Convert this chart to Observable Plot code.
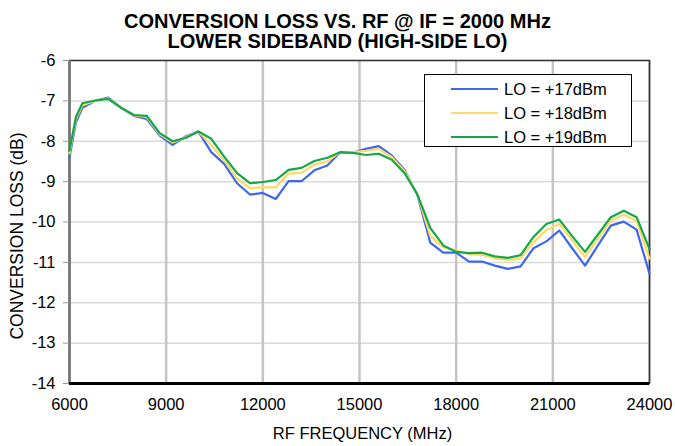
<!DOCTYPE html>
<html>
<head>
<meta charset="utf-8">
<script src="https://cdn.jsdelivr.net/npm/d3@7"></script>
<script src="https://cdn.jsdelivr.net/npm/@observablehq/plot@0.6"></script>
<style>
  html, body { margin: 0; padding: 0; background: #fff; }
  #wrap { position: relative; width: 675px; height: 446px; font-family: "Liberation Sans", Arial, sans-serif; color: #000; }
  .title { position: absolute; left: 0; width: 675px; text-align: center; font-weight: bold; font-size: 20px; line-height: 20px; }
  .axt { position: absolute; font-size: 16.5px; white-space: nowrap; }
  #legend { position: absolute; left: 424px; top: 74px; width: 208px; height: 73px; border: 1px solid #000; background: #fff; box-sizing: border-box; }
  .lrow { position: absolute; left: 0; height: 20px; display: flex; align-items: center; font-size: 16.5px; white-space: nowrap; }
  .lsw { width: 47px; height: 2px; margin-left: 26px; margin-right: 6px; }
</style>
</head>
<body>
<div id="wrap"></div>
<script>
const freq = [6000, 6200, 6400, 6800, 7200, 7600, 8000, 8400, 8800, 9200, 9600, 10000, 10400, 10800, 11200, 11600, 12000, 12400, 12800, 13200, 13600, 14000, 14400, 14800, 15200, 15600, 16000, 16400, 16800, 17200, 17600, 18000, 18400, 18800, 19200, 19600, 20000, 20400, 20800, 21200, 21600, 22000, 22400, 22800, 23200, 23600, 24000];
const lo17 = [-8.40, -7.53, -7.17, -7.00, -6.92, -7.17, -7.37, -7.45, -7.86, -8.09, -7.88, -7.76, -8.27, -8.56, -9.04, -9.32, -9.28, -9.43, -8.99, -8.99, -8.72, -8.60, -8.27, -8.28, -8.19, -8.12, -8.35, -8.71, -9.34, -10.52, -10.76, -10.76, -10.98, -10.98, -11.08, -11.16, -11.10, -10.65, -10.48, -10.21, -10.65, -11.08, -10.58, -10.09, -9.99, -10.19, -11.28];
const lo18 = [-8.30, -7.45, -7.11, -7.00, -6.94, -7.17, -7.36, -7.40, -7.83, -8.03, -7.90, -7.76, -8.10, -8.47, -8.92, -9.16, -9.14, -9.14, -8.80, -8.78, -8.58, -8.50, -8.27, -8.27, -8.24, -8.19, -8.39, -8.74, -9.32, -10.35, -10.63, -10.70, -10.80, -10.81, -10.90, -10.94, -10.90, -10.50, -10.20, -10.05, -10.45, -10.87, -10.42, -9.96, -9.82, -9.97, -10.91];
const lo19 = [-8.23, -7.40, -7.06, -6.99, -6.95, -7.17, -7.35, -7.37, -7.80, -8.00, -7.92, -7.76, -7.94, -8.38, -8.79, -9.04, -9.01, -8.96, -8.71, -8.66, -8.49, -8.41, -8.27, -8.29, -8.34, -8.31, -8.46, -8.79, -9.32, -10.15, -10.58, -10.74, -10.77, -10.76, -10.85, -10.89, -10.82, -10.37, -10.05, -9.94, -10.35, -10.74, -10.31, -9.88, -9.72, -9.88, -10.67];
const seriesNames = ["LO = +17dBm", "LO = +18dBm", "LO = +19dBm"];
const seriesColors = ["#3f66ef", "#ffd966", "#12a84a"];
const xTicks = [6000, 9000, 12000, 15000, 18000, 21000, 24000];
const yTicks = [-14, -13, -12, -11, -10, -9, -8, -7, -6];
const titleLines = ["CONVERSION LOSS VS. RF @ IF = 2000 MHz", "LOWER SIDEBAND (HIGH-SIDE LO)"];
const xLabel = "RF FREQUENCY (MHz)";
const yLabel = "CONVERSION LOSS (dB)";

const allSeries = [lo17, lo18, lo19];
const rows = [];
allSeries.forEach((vals, i) => vals.forEach((v, j) => rows.push({f: freq[j], v, s: seriesNames[i]})));

const chart = Plot.plot({
  width: 675, height: 446,
  marginLeft: 69, marginRight: 26, marginTop: 60, marginBottom: 63,
  x: {domain: [6000, 24000]},
  y: {domain: [-14, -6]},
  color: {domain: seriesNames, range: seriesColors},
  style: {fontFamily: "Liberation Sans, Arial, sans-serif", fontSize: "16.5px", color: "#000", background: "#fff"},
  marks: [
    Plot.gridY(yTicks, {stroke: "#d9d9d9", strokeOpacity: 1, strokeWidth: 1.5}),
    Plot.gridX(xTicks, {stroke: "#c4c4c4", strokeOpacity: 1, strokeWidth: 2.5}),
    Plot.frame({stroke: "#333", strokeWidth: 1.5}),
    Plot.ruleX([6000], {stroke: "#777", strokeWidth: 2.5}),
    Plot.ruleY([-14], {stroke: "#000", strokeWidth: 3}),
    Plot.axisY(yTicks, {tickSize: 6, tickPadding: 8, stroke: "#999", tickFormat: d => String(d), label: null}),
    Plot.axisX(xTicks, {tickSize: 0, tickPadding: 15, tickFormat: d => String(d), label: null}),
    Plot.line(rows, {x: "f", y: "v", z: "s", stroke: "s", strokeWidth: 2.2, strokeLinejoin: "round"})
  ]
});

const wrap = document.getElementById("wrap");
wrap.appendChild(chart);

titleLines.forEach((t, i) => {
  const d = document.createElement("div");
  d.className = "title";
  d.style.top = (10.5 + i * 20) + "px";
  d.textContent = t;
  wrap.appendChild(d);
});

const xl = document.createElement("div");
xl.className = "axt";
xl.textContent = xLabel;
xl.style.left = "0px"; xl.style.width = "725px"; xl.style.textAlign = "center"; xl.style.top = "424px";
wrap.appendChild(xl);

const yl = document.createElement("div");
yl.className = "axt";
yl.textContent = yLabel;
yl.style.fontSize = "17.5px";
yl.style.left = "17px"; yl.style.top = "236px";
yl.style.transform = "translate(-50%, -50%) rotate(-90deg)";
wrap.appendChild(yl);

const lg = document.createElement("div");
lg.id = "legend";
seriesNames.forEach((n, i) => {
  const r = document.createElement("div");
  r.className = "lrow";
  r.style.top = (4 + i * 24) + "px";
  const sw = document.createElement("div");
  sw.className = "lsw";
  sw.style.background = seriesColors[i];
  const tx = document.createElement("span");
  tx.textContent = n;
  r.appendChild(sw); r.appendChild(tx);
  lg.appendChild(r);
});
wrap.appendChild(lg);
</script>
</body>
</html>
